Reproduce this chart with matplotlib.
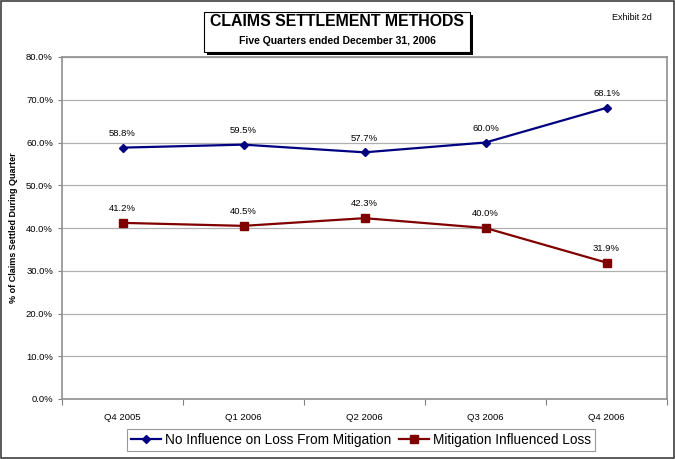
import numpy as np
import matplotlib.pyplot as plt
from matplotlib.patches import Rectangle

plt.rcParams['font.family'] = ['Liberation Sans', 'DejaVu Sans']

quarters = ['Q4 2005', 'Q1 2006', 'Q2 2006', 'Q3 2006', 'Q4 2006']
no_influence = [58.8, 59.5, 57.7, 60.0, 68.1]
mitigation = [41.2, 40.5, 42.3, 40.0, 31.9]
yticks = [0, 10, 20, 30, 40, 50, 60, 70, 80]

fig = plt.figure(figsize=(6.75, 4.59), dpi=100)
ax = fig.add_axes([62 / 675, 1 - 399 / 459, 605 / 675, 342 / 459])

x = np.arange(len(quarters))
ax.plot(x, no_influence, color='#000080', marker='D', markersize=4.5, lw=1.6,
        label='No Influence on Loss From Mitigation')
ax.plot(x, mitigation, color='#800000', marker='s', markersize=5.5, lw=1.6,
        label='Mitigation Influenced Loss')

for xi, v in zip(x, no_influence):
    ax.annotate(f"{v:.1f}%", (xi, v), xytext=(0, 7), textcoords='offset points',
                ha='center', va='bottom', fontsize=6.8)
for xi, v in zip(x, mitigation):
    ax.annotate(f"{v:.1f}%", (xi, v), xytext=(0, 7), textcoords='offset points',
                ha='center', va='bottom', fontsize=6.8)

ax.set_xlim(-0.5, 4.5)
ax.set_ylim(0, 80)
ax.set_yticks(yticks)
ax.set_yticklabels([f"{t:.1f}%" for t in yticks], fontsize=6.8)
ax.yaxis.grid(True, color='#b0b0b0', lw=0.9)
ax.set_axisbelow(True)

ax.set_xticks(np.arange(-0.5, 5.0, 1.0))
ax.set_xticklabels([])
ax.set_xticks(x, minor=True)
ax.set_xticklabels(quarters, minor=True, fontsize=6.8)
ax.tick_params(axis='x', which='major', length=4, color='#808080')
ax.tick_params(axis='x', which='minor', length=0, pad=10)
ax.tick_params(axis='y', length=3, color='#808080')
for s in ax.spines.values():
    s.set_color('#909090')
    s.set_linewidth(1.2)

ax.set_ylabel('% of Claims Settled During Quarter', fontsize=6.5, fontweight='bold')
ax.yaxis.set_label_coords(-0.072, 0.5)

# title box with shadow
bx, by, bw, bh = 204 / 675, 1 - 52 / 459, 266 / 675, 40 / 459
fig.patches.append(Rectangle((bx + 0.004, by - 0.006), bw, bh, transform=fig.transFigure,
                             facecolor='black', edgecolor='none', zorder=1))
fig.patches.append(Rectangle((bx, by), bw, bh, transform=fig.transFigure,
                             facecolor='white', edgecolor='black', lw=0.8, zorder=2))
fig.text(337 / 675, 1 - 22 / 459, 'CLAIMS SETTLEMENT METHODS', ha='center', va='center',
         fontsize=11.4, fontweight='bold', zorder=3)
fig.text(337 / 675, 1 - 41 / 459, 'Five Quarters ended December 31, 2006', ha='center',
         va='center', fontsize=7.5, fontweight='bold', zorder=3)
fig.text(612 / 675, 1 - 18 / 459, 'Exhibit 2d', ha='left', va='center', fontsize=6.5)

leg = fig.legend(loc='center', bbox_to_anchor=(361 / 675, 1 - 440 / 459), ncol=2,
                 fontsize=9.8, frameon=True, fancybox=False, handlelength=2.2,
                 handletextpad=0.3, columnspacing=0.6, borderpad=0.3)
leg.get_frame().set_edgecolor('#808080')
leg.get_frame().set_linewidth(0.8)

fig.patches.append(Rectangle((0.001, 0.002), 0.997, 0.996, transform=fig.transFigure,
                             facecolor='none', edgecolor='#404040', lw=1.2))

fig.savefig('out.png', dpi=100)
